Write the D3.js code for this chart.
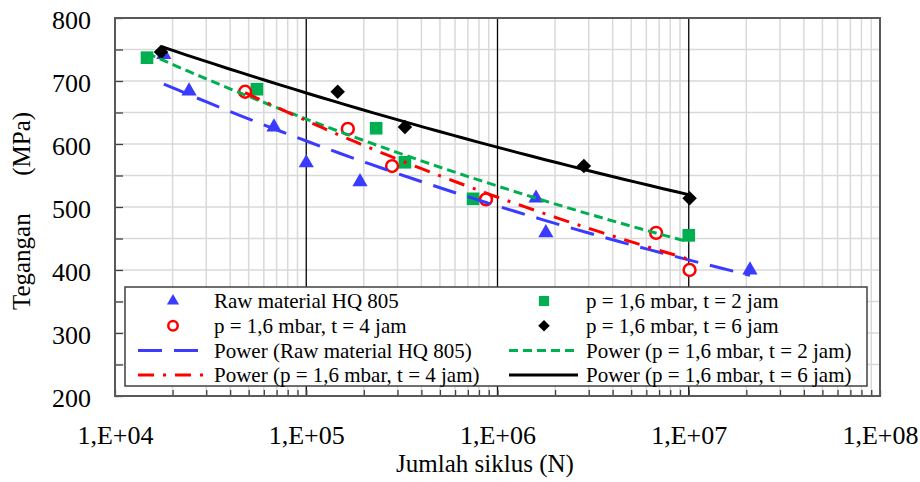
<!DOCTYPE html>
<html>
<head>
<meta charset="utf-8">
<script src="https://cdn.jsdelivr.net/npm/d3@7"></script>
<style>
  body { margin: 0; background: #fff; }
  text { font-family: 'Liberation Serif', 'Times New Roman', serif; fill: #000; }
</style>
</head>
<body>
<div id="chart"></div>
<script>
//Data
const rawN = [18000, 24400, 67800, 100000, 191000, 1590000, 1790000, 20900000];
const rawS = [742, 684, 627, 570, 540, 514, 459, 400];

const t2N = [14700, 55200, 232000, 328000, 745000, 10000000];
const t2S = [737, 687, 625, 571, 513, 455];

const t4N = [47900, 165000, 281000, 871000, 6750000, 10100000];
const t4S = [683, 624, 565, 512, 459, 400];

const t6N = [17400, 146000, 328000, 2830000, 10100000];
const t6S = [746, 683, 627, 565, 514];

const seriesNames = ['Raw material HQ 805', 'p = 1,6 mbar, t = 2 jam', 'p = 1,6 mbar, t = 4 jam', 'p = 1,6 mbar, t = 6 jam'];
const xTickValues = [1e4, 1e5, 1e6, 1e7, 1e8];
const xTickLabels = ['1,E+04', '1,E+05', '1,E+06', '1,E+07', '1,E+08'];
const yTickValues = [200, 300, 400, 500, 600, 700, 800];

const w = 920;
const h = 482;
const plotL = 115, plotR = 880, plotT = 18, plotB = 396;

//styles per series
const series = [
  { name: seriesNames[0], n: rawN, s: rawS, color: '#3b3bff', shape: 'triangle', dash: '24,12' },
  { name: seriesNames[1], n: t2N, s: t2S, color: '#00b050', shape: 'square', dash: '9,5' },
  { name: seriesNames[2], n: t4N, s: t4S, color: '#ff0000', shape: 'circle', dash: '16,9,3,9' },
  { name: seriesNames[3], n: t6N, s: t6S, color: '#000000', shape: 'diamond', dash: null }
];

//Scales
const xScale = d3.scaleLog()
                 .domain([1e4, 1e8])
                 .range([plotL, plotR]);

const yScale = d3.scaleLinear()
                 .domain([200, 800])
                 .range([plotB, plotT]);

const svg = d3.select('#chart')
              .append('svg')
              .attr('width', w)
              .attr('height', h);

//minor log positions
let minorX = [];
for (let e = 4; e < 8; e++) {
  for (let k = 2; k <= 9; k++) minorX.push(k * Math.pow(10, e));
}
const gridY = d3.range(250, 800, 50);

//Grid
svg.append('g')
   .selectAll('line')
   .data(minorX)
   .enter()
   .append('line')
   .attr('x1', d => xScale(d))
   .attr('x2', d => xScale(d))
   .attr('y1', plotT)
   .attr('y2', plotB)
   .attr('stroke', '#d9d9d9')
   .attr('stroke-width', 1.5);

svg.append('g')
   .selectAll('line')
   .data(gridY)
   .enter()
   .append('line')
   .attr('x1', plotL)
   .attr('x2', plotR)
   .attr('y1', d => yScale(d))
   .attr('y2', d => yScale(d))
   .attr('stroke', '#d9d9d9')
   .attr('stroke-width', 1.5);

svg.append('g')
   .selectAll('line')
   .data([1e5, 1e6, 1e7])
   .enter()
   .append('line')
   .attr('x1', d => xScale(d))
   .attr('x2', d => xScale(d))
   .attr('y1', plotT)
   .attr('y2', plotB)
   .attr('stroke', '#000')
   .attr('stroke-width', 1.3);

//Axes
const xAxis = d3.axisBottom(xScale)
                .tickValues(minorX.concat(xTickValues))
                .tickSize(-6)
                .tickPadding(30)
                .tickFormat(d => {
                  const i = xTickValues.indexOf(d);
                  return i >= 0 ? xTickLabels[i] : '';
                });

const yAxis = d3.axisLeft(yScale)
                .tickValues(d3.range(200, 801, 50))
                .tickSize(-8)
                .tickPadding(24)
                .tickFormat(d => yTickValues.includes(d) ? d : '');

const gx = svg.append('g')
              .attr('transform', `translate(0, ${plotB})`)
              .call(xAxis);

const gy = svg.append('g')
              .attr('transform', `translate(${plotL}, 0)`)
              .call(yAxis);

[gx, gy].forEach(g => {
  g.select('.domain').remove();
  g.selectAll('line').attr('stroke', '#404040').attr('stroke-width', 1.3);
  g.selectAll('text').style('font-size', '26px').attr('fill', '#000');
});
gy.selectAll('text').attr('dy', '0.42em');

//Border
svg.append('rect')
   .attr('x', plotL)
   .attr('y', plotT)
   .attr('width', plotR - plotL)
   .attr('height', plotB - plotT)
   .attr('fill', 'none')
   .attr('stroke', '#595959')
   .attr('stroke-width', 2);

//marker shapes
function symbolFor(shape, big) {
  const k = big ? 1 : 0.8;
  if (shape === 'triangle') return d3.symbol(d3.symbolTriangle, 100 * k * k)();
  if (shape === 'square') return d3.symbol(d3.symbolSquare, 160 * k * k)();
  if (shape === 'diamond') return d3.symbol(d3.symbolSquare, 105 * k * k)();
  return d3.symbol(d3.symbolCircle, 110 * k * k)();
}

function drawMarker(g, shape, color, big) {
  const p = g.append('path').attr('d', symbolFor(shape, big));
  if (shape === 'circle') {
    p.attr('fill', '#fff').attr('stroke', color).attr('stroke-width', 2.5);
  } else {
    p.attr('fill', color);
  }
  if (shape === 'diamond') p.attr('transform', 'rotate(45)');
  return p;
}

//Points
series.forEach(sr => {
  const pts = sr.n.map((n, i) => [n, sr.s[i]]);
  pts.forEach(d => {
    const g = svg.append('g')
                 .attr('transform', `translate(${xScale(d[0])}, ${yScale(d[1])})`);
    drawMarker(g, sr.shape, sr.color, true);
  });
});

//Power trend lines (least squares on log N, log S)
const line = d3.line()
               .x(d => xScale(d[0]))
               .y(d => yScale(d[1]));

series.forEach(sr => {
  const lx = sr.n.map(v => Math.log10(v));
  const ly = sr.s.map(v => Math.log10(v));
  const mx = d3.mean(lx), my = d3.mean(ly);
  const b = d3.sum(lx, (v, i) => (v - mx) * (ly[i] - my)) / d3.sum(lx, v => (v - mx) * (v - mx));
  const a = my - b * mx;
  const lo = d3.min(lx), hi = d3.max(lx);
  const pts = d3.range(0, 41).map(i => {
    const t = lo + (hi - lo) * i / 40;
    return [Math.pow(10, t), Math.pow(10, a + b * t)];
  });
  svg.append('path')
     .datum(pts)
     .attr('d', line)
     .attr('fill', 'none')
     .attr('stroke', sr.color)
     .attr('stroke-width', 3)
     .attr('stroke-dasharray', sr.dash);
});

//Legend
const legend = svg.append('g');
legend.append('rect')
      .attr('x', 125)
      .attr('y', 287)
      .attr('width', 742)
      .attr('height', 99)
      .attr('fill', '#fff')
      .attr('stroke', '#404040')
      .attr('stroke-width', 1.5);

const legendItems = series.map(sr => ({ type: 'marker', sr: sr, label: sr.name }))
  .concat(series.map(sr => ({ type: 'line', sr: sr, label: 'Power (' + sr.name + ')' })));

const colX = [{ sym: 173, l1: 138, l2: 204, text: 214 }, { sym: 544, l1: 509, l2: 578, text: 586 }];

legendItems.forEach((it, i) => {
  const c = colX[i % 2];
  const yy = 301 + Math.floor(i / 2) * 24.7;
  if (it.type === 'marker') {
    const g = legend.append('g').attr('transform', `translate(${c.sym}, ${yy})`);
    drawMarker(g, it.sr.shape, it.sr.color, false);
  } else {
    legend.append('line')
          .attr('x1', c.l1)
          .attr('x2', c.l2)
          .attr('y1', yy)
          .attr('y2', yy)
          .attr('stroke', it.sr.color)
          .attr('stroke-width', 3)
          .attr('stroke-dasharray', it.sr.dash);
  }
  legend.append('text')
        .attr('x', c.text)
        .attr('y', yy)
        .attr('dy', '0.35em')
        .style('font-size', '21px')
        .text(it.label);
});

//Axes labels
svg.append('text')
   .attr('x', 485)
   .attr('y', 472)
   .attr('text-anchor', 'middle')
   .style('font-size', '25px')
   .text('Jumlah siklus (N)');

svg.append('text')
   .attr('transform', 'rotate(-90)')
   .attr('x', -211)
   .attr('y', 30)
   .attr('text-anchor', 'middle')
   .style('font-size', '25px')
   .style('white-space', 'pre')
   .text('Tegangan      (MPa)');
</script>
</body>
</html>
